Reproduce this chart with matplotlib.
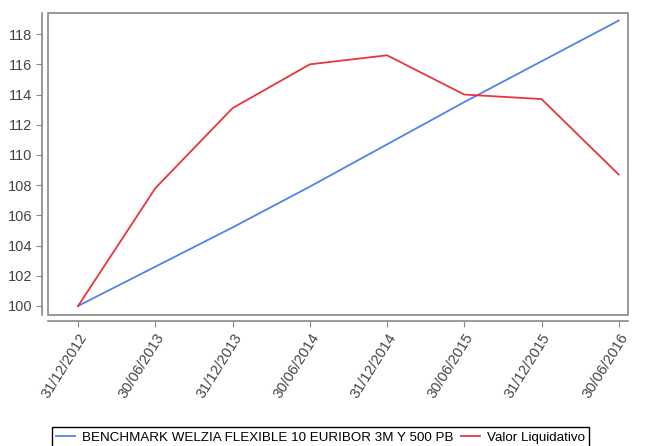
import matplotlib.pyplot as plt
from matplotlib.patches import Rectangle

dates = ["31/12/2012", "30/06/2013", "31/12/2013", "30/06/2014",
         "31/12/2014", "30/06/2015", "31/12/2015", "30/06/2016"]
benchmark = [100.0, 102.6, 105.2, 107.9, 110.7, 113.5, 116.2, 118.9]
valor = [100.0, 107.8, 113.1, 116.0, 116.6, 114.0, 113.7, 108.7]
yticks = [100, 102, 104, 106, 108, 110, 112, 114, 116, 118]

plt.rcParams["font.family"] = ["Liberation Sans", "DejaVu Sans"]

fig = plt.figure(figsize=(6.45, 4.46), dpi=100)
ax = fig.add_axes([48 / 645, 1 - 315 / 446, 580 / 645, 302 / 446])

x = list(range(len(dates)))
ax.plot(x, benchmark, color="#4f83ea", lw=1.3,
        label="BENCHMARK WELZIA FLEXIBLE 10 EURIBOR 3M Y 500 PB")
ax.plot(x, valor, color="#e8343f", lw=1.3, label="Valor Liquidativo")

ax.set_xlim(-0.39, 7.12)
ax.set_ylim(99.4, 119.4)
ax.set_yticks(yticks)
ax.set_xticks(x)
ax.set_xticklabels(dates)

for side in ("top", "right"):
    ax.spines[side].set_visible(False)
for side in ("left", "bottom"):
    ax.spines[side].set_position(("outward", 4))
    ax.spines[side].set_color("#888888")
    ax.spines[side].set_linewidth(1.2)
ax.add_patch(Rectangle((0, 0), 1, 1, transform=ax.transAxes, fill=False,
                       edgecolor="#888888", lw=1.2, clip_on=False))
ax.tick_params(colors="#888888", labelcolor="#444444", labelsize=10.5,
               length=4, width=0.8)
plt.setp(ax.get_xticklabels(), rotation=58, ha="right",
         rotation_mode="anchor")

fig.legend(loc="upper center", bbox_to_anchor=(0.497, 1 - 420 / 446),
           ncol=2, fontsize=9.6, frameon=True, fancybox=False,
           edgecolor="black", handlelength=1.4, handletextpad=0.5,
           columnspacing=0.6, borderpad=0.35, framealpha=1)

fig.savefig("out.png", dpi=100)
